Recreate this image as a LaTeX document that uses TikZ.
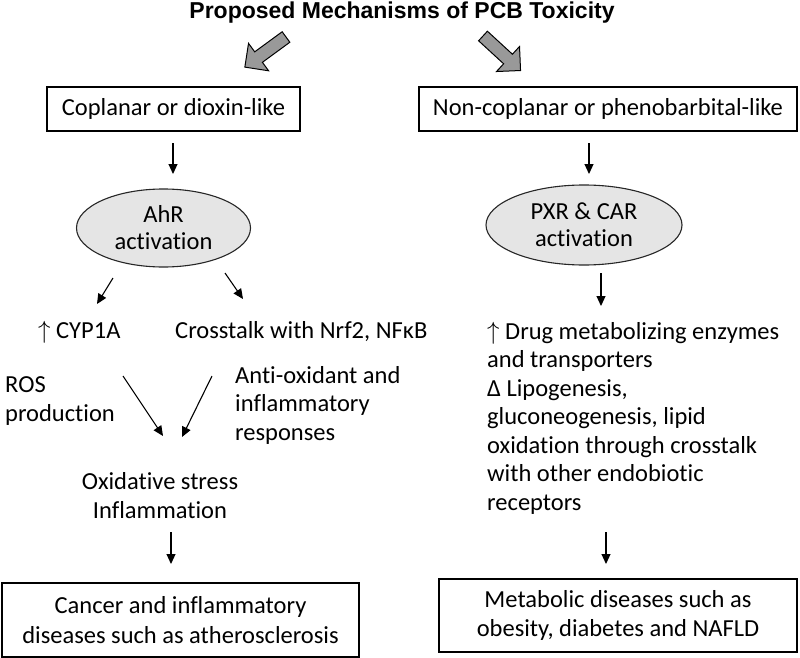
\documentclass[tikz,border=0pt]{standalone}
\usepackage{fontspec}
\setmainfont{Carlito}[Ligatures=CommonOff]
\newfontfamily\titlefont{Liberation Sans}
\usetikzlibrary{arrows.meta,shapes.geometric}
\newcommand{\upar}{\ensuremath{\uparrow}}
\begin{document}
\begin{tikzpicture}[x=1pt,y=-1pt,
  txt/.style={font=\fontsize{24.5}{28.5}\selectfont, inner sep=0pt, align=left},
  ctxt/.style={font=\fontsize{24.5}{28.5}\selectfont, inner sep=0pt, align=center},
  box/.style={draw=black, line width=1.2pt, fill=white, inner sep=0pt, align=center, font=\fontsize{24.5}{29.5}\selectfont},
  oval/.style={ellipse, draw=black!85, line width=1.1pt, fill=black!10, inner sep=0pt, align=center, font=\fontsize{24.5}{27}\selectfont},
  arr/.style={line width=1.1pt, -{Triangle[length=10pt,width=9pt]}},
  blockarrow/.style={draw=black, line width=1pt, fill=black!40, line join=miter}
]
\useasboundingbox (0,0) rectangle (800,658);

% title
\node[inner sep=0pt, font=\titlefont\bfseries\fontsize{23}{25}\selectfont] (title) at (402,13) {Proposed Mechanisms of PCB Toxicity};

% gray block arrows
\begin{scope}[shift={(286,37)}, rotate=-143.8]
  \path[blockarrow] (0,-6.5) -- (34,-6.5) -- (34,-17) -- (51,0) -- (34,17) -- (34,6.5) -- (0,6.5) -- cycle;
\end{scope}
\begin{scope}[shift={(483,36)}, rotate=-42.6]
  \path[blockarrow] (0,-6.5) -- (34,-6.5) -- (34,-17) -- (51,0) -- (34,17) -- (34,6.5) -- (0,6.5) -- cycle;
\end{scope}

% top boxes
\node[box, minimum width=253pt, minimum height=44pt] (boxL) at (173.5,109) {Coplanar or dioxin-like};
\node[box, minimum width=378pt, minimum height=44pt] (boxR) at (608,109) {Non-coplanar or phenobarbital-like};

% ellipses
\node[oval, minimum width=174pt, minimum height=78pt] (ahr) at (163.5,228) {AhR\\activation};
\node[oval, minimum width=196pt, minimum height=80pt] (pxr) at (584,225) {PXR \& CAR\\activation};

% left text (base anchor = baseline of last line)
\node[txt, anchor=base west] (cyp) at (38,338) {\upar\ CYP1A};
\node[txt, anchor=base west] (cross) at (175,338) {Crosstalk with Nrf2, NFκB};
\node[txt, anchor=base west] (ros) at (5,421) {ROS\\production};
\node[txt, anchor=base west] (anti) at (235,440) {Anti-oxidant and\\inflammatory\\responses};
\node[ctxt, anchor=base] (oxi) at (160,518) {Oxidative stress\\Inflammation};

% right text
\node[txt, anchor=base west] (drug) at (487,510) {\upar\ Drug metabolizing enzymes\\and transporters\\Δ Lipogenesis,\\gluconeogenesis, lipid\\oxidation through crosstalk\\with other endobiotic\\receptors};

% bottom boxes
\node[box, minimum width=357pt, minimum height=74pt] (cancer) at (180.5,620) {Cancer and inflammatory\\diseases such as atherosclerosis};
\node[box, minimum width=358pt, minimum height=73pt] (metab) at (618,615.5) {Metabolic diseases such as\\obesity, diabetes and NAFLD};

% connector end points
\coordinate (l1a) at (173,143); \coordinate (l1b) at (173,174);
\coordinate (l2a) at (113,278); \coordinate (l2b) at (97,304);
\coordinate (l3a) at (225,273); \coordinate (l3b) at (243,299);
\coordinate (l4a) at (123,376); \coordinate (l4b) at (163,436);
\coordinate (l5a) at (212,376); \coordinate (l5b) at (182,437);
\coordinate (l6a) at (171,532); \coordinate (l6b) at (171,564);
\coordinate (r1a) at (589,143); \coordinate (r1b) at (589,174);
\coordinate (r2a) at (601,273); \coordinate (r2b) at (601,306);
\coordinate (r3a) at (606,532); \coordinate (r3b) at (606,564);

\draw[arr] (l1a) -- (l1b);
\draw[arr] (l2a) -- (l2b);
\draw[arr] (l3a) -- (l3b);
\draw[arr] (l4a) -- (l4b);
\draw[arr] (l5a) -- (l5b);
\draw[arr] (l6a) -- (l6b);
\draw[arr] (r1a) -- (r1b);
\draw[arr] (r2a) -- (r2b);
\draw[arr] (r3a) -- (r3b);
\end{tikzpicture}
\end{document}
